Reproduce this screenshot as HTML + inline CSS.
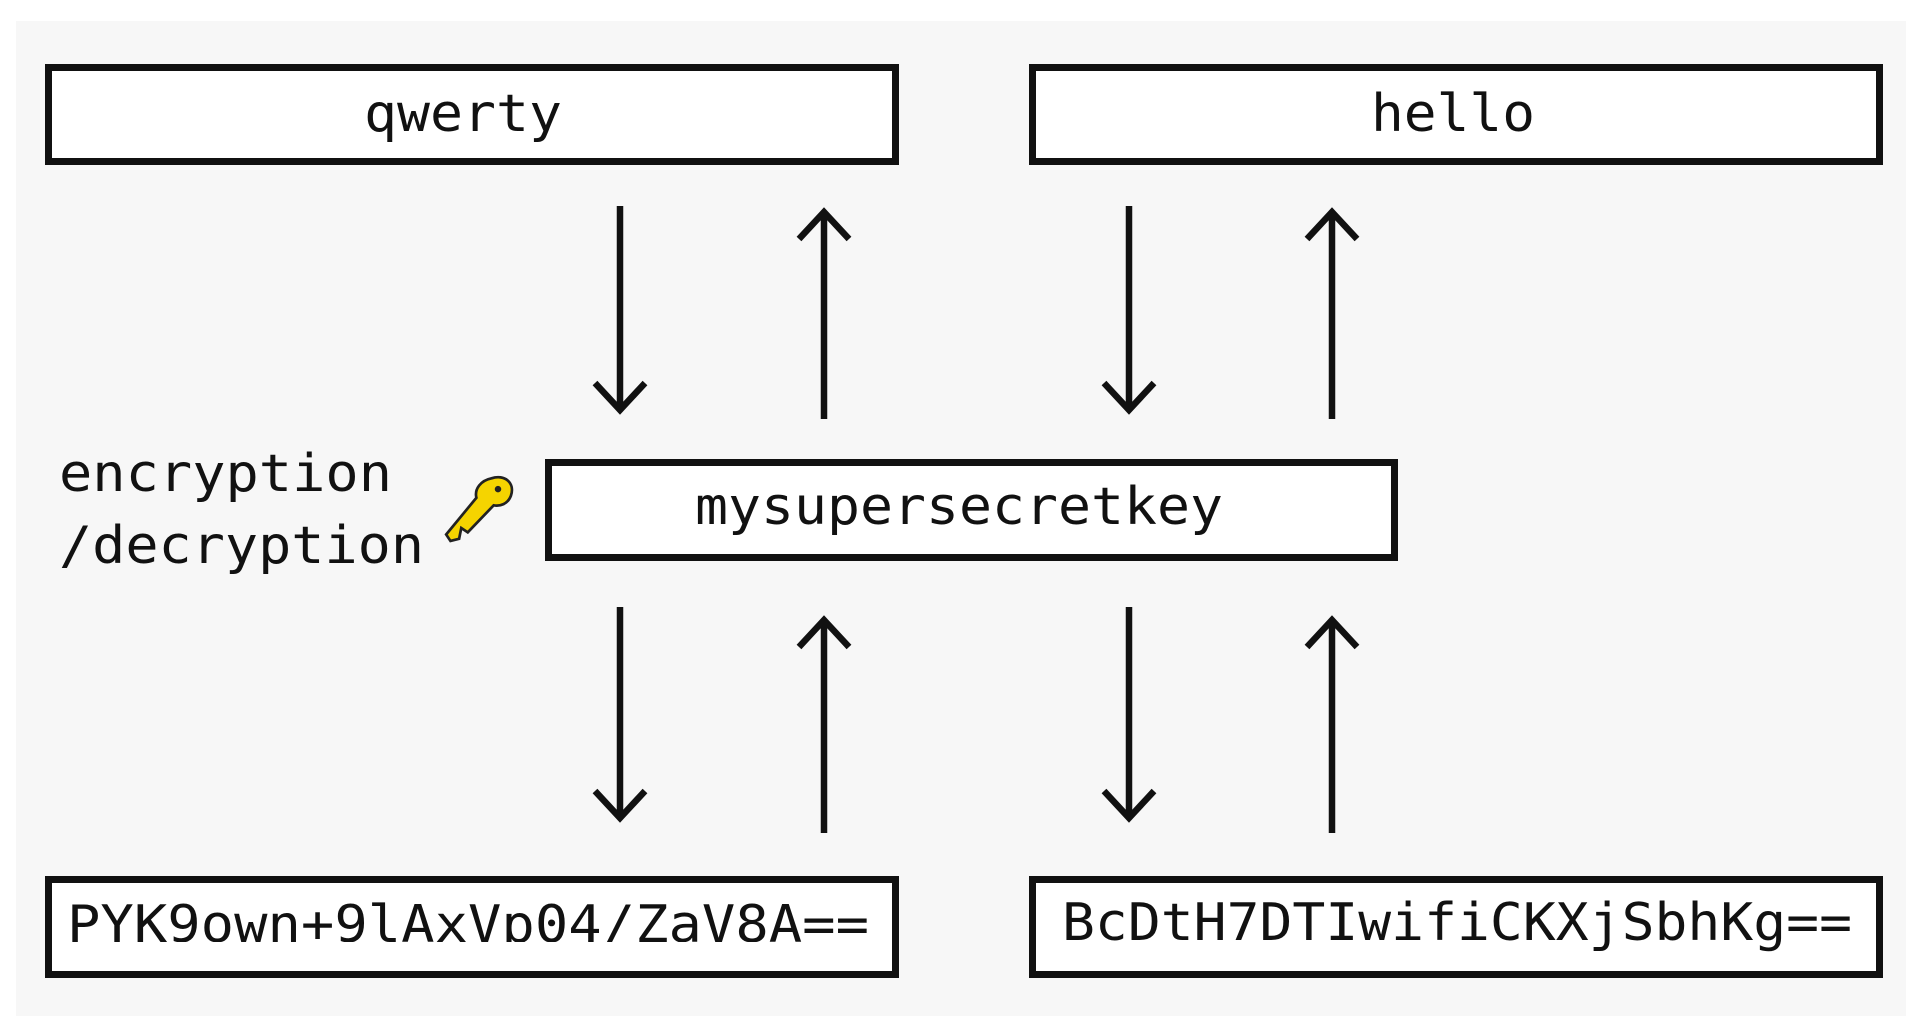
<!DOCTYPE html>
<html><head><meta charset="utf-8"><style>
html,body{margin:0;padding:0;background:#fff;}
svg{display:block;}
text{font-family:"DejaVu Sans Mono","Liberation Mono",monospace;fill:#111;}
</style></head><body>
<svg width="1920" height="1016" viewBox="0 0 1920 1016">
<rect x="0" y="0" width="1920" height="1016" fill="#ffffff"/>
<rect x="16" y="21" width="1890" height="995" fill="#f7f7f7"/>
<defs><clipPath id="c1"><rect x="52" y="882" width="840" height="60"/></clipPath></defs>
<g fill="#fff" stroke="#111" stroke-width="7">
<rect x="48.5" y="67.5" width="847" height="94"/>
<rect x="1032.5" y="67.5" width="847" height="94"/>
<rect x="548.5" y="462.5" width="846" height="95"/>
<rect x="48.5" y="879.5" width="847" height="95"/>
<rect x="1032.5" y="879.5" width="847" height="95"/>
</g>
<g font-size="52">
<text x="463" y="131" text-anchor="middle" textLength="198" lengthAdjust="spacingAndGlyphs">qwerty</text>
<text x="1453" y="131" text-anchor="middle" textLength="164" lengthAdjust="spacingAndGlyphs">hello</text>
<text x="959" y="524" text-anchor="middle" textLength="528" lengthAdjust="spacingAndGlyphs">mysupersecretkey</text>
<text x="67" y="942" clip-path="url(#c1)" textLength="802" lengthAdjust="spacingAndGlyphs">PYK9own+9lAxVp04/ZaV8A==</text>
<text x="1062" y="940" textLength="790" lengthAdjust="spacingAndGlyphs">BcDtH7DTIwifiCKXjSbhKg==</text>
<text x="59" y="491" textLength="333" lengthAdjust="spacingAndGlyphs">encryption</text>
<text x="59" y="563" textLength="365" lengthAdjust="spacingAndGlyphs">/decryption</text>
</g>
<g stroke="#111" stroke-width="6.5" fill="none" stroke-linecap="butt">
<path d="M620 206V410M595 383L620 410L645 383"/>
<path d="M824 419V212M799 239L824 212L849 239"/>
<path d="M1129 206V410M1104 383L1129 410L1154 383"/>
<path d="M1332 419V212M1307 239L1332 212L1357 239"/>
<path d="M620 607V818M595 791L620 818L645 791"/>
<path d="M824 833V620M799 647L824 620L849 647"/>
<path d="M1129 607V818M1104 791L1129 818L1154 791"/>
<path d="M1332 833V620M1307 647L1332 620L1357 647"/>
</g>
<g transform="translate(444,474) scale(1.08)">
<path d="M44 4 C56 0 66 8 62 20 C59 28 52 30 46 29 L22 54 L16 50 L14 60 L6 62 L2 56 L30 22 C28 14 34 6 44 4Z" fill="#f5d400" stroke="#222" stroke-width="2.5"/>
<circle cx="50" cy="14" r="3" fill="#222"/>
</g>
</svg>
</body></html>
